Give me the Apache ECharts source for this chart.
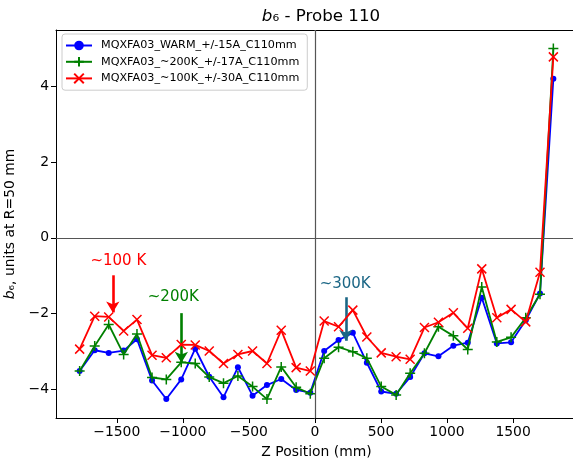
<!DOCTYPE html>
<html>
<head>
<meta charset="utf-8">
<script src="https://cdn.jsdelivr.net/npm/echarts@6/dist/echarts.min.js"></script>
<style>
html,body{margin:0;padding:0;background:#fff;}
#chart{width:573px;height:459px;}
</style>
</head>
<body>
<div id="chart"></div>
<script>
// ---- data ----
const zPos = [-1781, -1667, -1561, -1448, -1347, -1233, -1125, -1012, -906, -800,
  -692, -583, -472, -363, -255, -142, -35, 70, 179, 287,
  393, 502, 615, 721, 829, 935, 1048, 1157, 1263, 1377,
  1485, 1596, 1704, 1805];
const warm = [-3.52, -2.97, -3.04, -2.98, -2.68, -3.77, -4.26, -3.74, -2.93, -3.67,
  -4.21, -3.42, -4.17, -3.89, -3.73, -4.02, -4.09, -2.99, -2.70, -2.51,
  -3.30, -4.06, -4.12, -3.68, -3.05, -3.13, -2.85, -2.77, -1.58, -2.79,
  -2.76, -2.18, -1.47, 4.20];
const k200 = [-3.52, -2.86, -2.29, -3.08, -2.54, -3.69, -3.74, -3.29, -3.32, -3.68,
  -3.84, -3.65, -3.93, -4.26, -3.41, -3.95, -4.12, -3.18, -2.89, -3.01,
  -3.18, -3.93, -4.15, -3.58, -3.05, -2.35, -2.59, -2.95, -1.30, -2.75,
  -2.63, -2.11, -1.49, 5.00];
const k100 = [-2.94, -2.07, -2.09, -2.46, -2.16, -3.10, -3.17, -2.82, -2.83, -2.99,
  -3.32, -3.08, -2.99, -3.32, -2.44, -3.43, -3.52, -2.20, -2.35, -1.91,
  -2.62, -3.04, -3.14, -3.21, -2.37, -2.23, -1.98, -2.39, -0.82, -2.11,
  -1.89, -2.22, -0.91, 4.78];
const seriesNames = ['MQXFA03_WARM_+/-15A_C110mm', 'MQXFA03_~200K_+/-17A_C110mm', 'MQXFA03_~100K_+/-30A_C110mm'];
const xTicks = [-1500, -1000, -500, 0, 500, 1000, 1500];
const yTicks = [-4, -2, 0, 2, 4];
// annotations: text, text position, arrow x, arrow start y, arrow end y
const annoText = ['~100 K', '~200K', '~300K'];
const annoTextX = [-1488, -1072, 229];
const annoTextY = [-0.62, -1.57, -1.22];
const annoArrowX = [-1530, -1011, 234];
const annoArrowY0 = [-0.99, -1.99, -1.57];
const annoArrowY1 = [-1.97, -3.30, -2.72];

const FONT = 'DejaVu Sans';
const colors = ['#0000ff', '#008000', '#ff0000'];
const annoColors = ['#ff0000', '#008000', '#1b6685'];
const X_MIN = -1960, X_MAX = 1955, Y_MIN = -4.76, Y_MAX = 5.49;

function pairs(ys) { return zPos.map((x, i) => [x, ys[i]]); }

function anno(i) {
  return {
    markLine: {
      silent: true, animation: false,
      symbol: ['none', 'arrow'], symbolSize: [10, 11],
      label: {show: false},
      lineStyle: {color: annoColors[i], width: 2.6, type: 'solid'},
      emphasis: {disabled: true},
      data: [[{coord: [annoArrowX[i], annoArrowY0[i]]}, {coord: [annoArrowX[i], annoArrowY1[i]]}]]
    },
    markPoint: {
      silent: true, animation: false,
      symbol: 'circle', symbolSize: 0,
      label: {show: true, position: 'inside', fontFamily: FONT, fontSize: 15, color: annoColors[i]},
      data: [{coord: [annoTextX[i], annoTextY[i]], value: 0, label: {formatter: annoText[i]}}]
    }
  };
}

const chart = echarts.init(document.getElementById('chart'), null, {renderer: 'canvas'});
const zeroLines = {
  silent: true, animation: false, symbol: ['none', 'none'],
  label: {show: false},
  lineStyle: {color: '#555', width: 1.2, type: 'solid'},
  emphasis: {disabled: true},
  data: [{xAxis: 0}, {yAxis: 0}]
};

const s0 = Object.assign({
  name: seriesNames[0], type: 'line', data: pairs(warm),
  symbol: 'circle', symbolSize: 6,
  itemStyle: {color: colors[0]}, lineStyle: {color: colors[0], width: 1.8},
  z: 3
}, anno(2));
const s1 = Object.assign({
  name: seriesNames[1], type: 'line', data: pairs(k200),
  symbol: 'path://M0,-1L0,1M-1,0L1,0', symbolSize: 10,
  itemStyle: {color: colors[1], borderColor: colors[1], borderWidth: 1.5},
  lineStyle: {color: colors[1], width: 1.8},
  z: 4
}, anno(1));
const s2 = Object.assign({
  name: seriesNames[2], type: 'line', data: pairs(k100),
  symbol: 'path://M-1,-1L1,1M-1,1L1,-1', symbolSize: 9,
  itemStyle: {color: colors[2], borderColor: colors[2], borderWidth: 1.5},
  lineStyle: {color: colors[2], width: 1.8},
  z: 5
}, anno(0));
// zero reference lines drawn via a helper series without data
const sZero = {name: 'zero', type: 'line', data: [], markLine: zeroLines, z: 1};

chart.setOption({
  animation: false,
  backgroundColor: '#fff',
  title: {
    text: '{i|b}{n|₆ - Probe 110}',
    left: 316, top: 3, textAlign: 'center',
    textStyle: {
      fontWeight: 'normal',
      rich: {
        i: {fontFamily: FONT, fontSize: 16.7, fontStyle: 'italic', fontWeight: 'normal', color: '#000'},
        n: {fontFamily: FONT, fontSize: 16.7, fontWeight: 'normal', color: '#000'}
      }
    }
  },
  legend: {
    data: seriesNames,
    orient: 'vertical', left: 62, top: 34,
    padding: [6, 8, 6, 3],
    itemWidth: 26, itemHeight: 12, itemGap: 5,
    backgroundColor: 'rgba(255,255,255,0.85)',
    borderColor: '#cccccc', borderWidth: 1, borderRadius: 3,
    textStyle: {fontFamily: FONT, fontSize: 11.2, color: '#000', padding: [0, 0, 0, 4]},
    selectedMode: false
  },
  grid: {
    left: 56, right: -4, top: 30, bottom: 41,
    outerBoundsMode: 'none', containLabel: false,
    show: false
  },
  xAxis: [{
    type: 'value', min: X_MIN, max: 1984,
    name: 'Z Position (mm)', nameLocation: 'middle', nameGap: 27,
    nameTextStyle: {fontFamily: FONT, fontSize: 13.9, color: '#000'},
    axisLine: {show: true, onZero: false, lineStyle: {color: '#000', width: 1}},
    axisTick: {show: true, length: 5, inside: false, customValues: xTicks, lineStyle: {color: '#000'}},
    axisLabel: {show: true, margin: 7, customValues: xTicks, fontFamily: FONT, fontSize: 13.9, color: '#000',
      formatter: v => String(v).replace('-', '\u2212')},
    splitLine: {show: false}
  }, {
    // top spine only
    type: 'value', position: 'top', min: X_MIN, max: 1984,
    axisLine: {show: true, onZero: false, lineStyle: {color: '#000', width: 1}},
    axisTick: {show: false}, axisLabel: {show: false}, splitLine: {show: false}
  }],
  yAxis: {
    type: 'value', min: Y_MIN, max: Y_MAX,
    name: '{i|b}{n|₆, units at R=50 mm}', nameLocation: 'middle', nameGap: 32, nameRotate: 90,
    nameTextStyle: {
      rich: {
        i: {fontFamily: FONT, fontSize: 13.9, fontStyle: 'italic', color: '#000'},
        n: {fontFamily: FONT, fontSize: 13.9, color: '#000'}
      }
    },
    axisLine: {show: true, onZero: false, lineStyle: {color: '#000', width: 1}},
    axisTick: {show: true, length: 5, inside: false, customValues: yTicks, lineStyle: {color: '#000'}},
    axisLabel: {show: true, margin: 7, customValues: yTicks, fontFamily: FONT, fontSize: 13.9, color: '#000',
      formatter: v => String(v).replace('-', '\u2212')},
    splitLine: {show: false}
  },
  series: [sZero, s0, s1, s2]
});
</script>
</body>
</html>
